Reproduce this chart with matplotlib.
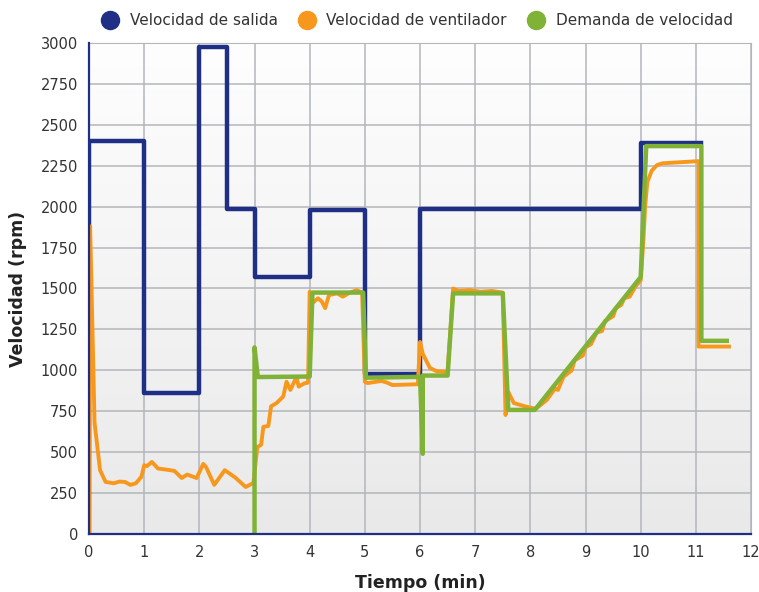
import matplotlib.pyplot as plt
from matplotlib.lines import Line2D
import numpy as np

# Velocidad de salida (step)
salida_t = [0, 0, 1, 1, 2, 2, 2.5, 2.5, 3, 3, 4, 4, 5, 5, 6, 6, 10, 10, 11.1]
salida_v = [0, 2400, 2400, 860, 860, 2975, 2975, 1985, 1985, 1570, 1570, 1980, 1980, 975, 975, 1985, 1985, 2390, 2390]

# Velocidad de ventilador
vent_t = [0, 0.02, 0.1, 0.2, 0.3, 0.45, 0.55, 0.65, 0.75, 0.85, 0.95, 1.0, 1.05, 1.14, 1.25, 1.47, 1.55,
          1.68, 1.78, 1.95, 2.07, 2.12, 2.27, 2.46, 2.65, 2.84, 2.98, 3.05, 3.12, 3.16, 3.25, 3.3, 3.4, 3.52,
          3.58, 3.65, 3.76, 3.8, 3.9, 3.97, 4.0, 4.05, 4.15, 4.22, 4.28, 4.35, 4.5, 4.6, 4.7, 4.85, 4.95,
          5.0, 5.05, 5.3, 5.4, 5.5, 5.96, 6.0, 6.05, 6.18, 6.3, 6.5, 6.6, 6.7, 6.9, 7.1, 7.3, 7.5, 7.55,
          7.6, 7.7, 7.9, 8.1, 8.3, 8.45, 8.5, 8.6, 8.75, 8.8, 8.95, 9.0, 9.1, 9.2, 9.3, 9.35, 9.5, 9.55,
          9.65, 9.7, 9.8, 9.9, 10.0, 10.05, 10.08, 10.12, 10.2, 10.3, 10.4, 11.05, 11.05, 11.6]
vent_v = [0, 1880, 680, 390, 318, 310, 320, 318, 300, 310, 350, 420, 415, 440, 400, 390, 385,
          342, 363, 342, 428, 410, 300, 390, 345, 287, 312, 531, 545, 655, 660, 780, 800, 840,
          930, 880, 960, 900, 920, 925, 1480, 1411, 1440, 1420, 1380, 1460, 1470, 1450, 1470, 1490, 1475,
          930, 922, 935, 925, 910, 915, 1173, 1100, 1014, 995, 990, 1500, 1485, 1490, 1480, 1485, 1475, 727,
          867, 800, 780, 765, 820, 890, 880, 960, 1000, 1060, 1090, 1140, 1160, 1230, 1240, 1300, 1330, 1380,
          1400, 1440, 1450, 1510, 1550, 1800, 2000, 2150, 2220, 2255, 2265, 2278, 1145, 1145]

# Demanda de velocidad
dem_t = [3, 3, 3.06, 4.0, 4.05, 4.97, 5.02, 6.0, 6.05, 6.05, 6.5, 6.6, 7.5, 7.6, 8.08, 10.0, 10.1, 11.1, 11.1, 11.56]
dem_v = [0, 1140, 959, 962, 1475, 1475, 955, 960, 490, 968, 968, 1470, 1470, 758, 758, 1570, 2370, 2370, 1180, 1180]

c_blue = '#1f2f86'
c_orange = '#f7981d'
c_green = '#7fb236'

fig = plt.figure(figsize=(7.59, 5.92), dpi=100)
ax = fig.add_axes([0.1173, 0.098, 0.8722, 0.8294])

# gradient background
grad = np.linspace(1, 0, 256).reshape(-1, 1)
ax.imshow(grad, extent=[0, 1, 0, 1], transform=ax.transAxes, aspect='auto',
          cmap=plt.matplotlib.colors.LinearSegmentedColormap.from_list('bg', ['#e9e9ea', '#fefefe']),
          zorder=0)

ax.plot(salida_t, salida_v, color=c_blue, lw=3.2, zorder=3)
ax.plot(vent_t, vent_v, color=c_orange, lw=2.8, zorder=4)
ax.plot(dem_t, dem_v, color=c_green, lw=3.2, zorder=5, solid_joinstyle='round')

ax.set_xlim(0, 12)
ax.set_ylim(0, 3000)
ax.set_xticks(range(0, 13))
ax.set_yticks(range(0, 3001, 250))
ax.grid(True, color='#b3b6ba', lw=1.1, zorder=1)
ax.set_axisbelow(True)
ax.tick_params(length=0, labelsize=10.5, labelcolor='#333333', pad=8)
for s in ['top', 'right']:
    ax.spines[s].set_color('#b3b6ba')
for s in ['left', 'bottom']:
    ax.spines[s].set_color(c_blue)
    ax.spines[s].set_linewidth(1.6)
    ax.spines[s].set_zorder(6)

ax.set_xlabel('Tiempo (min)', fontsize=12.5, fontweight='bold', color='#222222', labelpad=10)
ax.set_ylabel('Velocidad (rpm)', fontsize=12.5, fontweight='bold', color='#222222', labelpad=10)

handles = [Line2D([], [], ls='none', marker='o', ms=13, color=c) for c in (c_blue, c_orange, c_green)]
fig.legend(handles, ['Velocidad de salida', 'Velocidad de ventilador', 'Demanda de velocidad'],
           loc='center', bbox_to_anchor=(0.545, 0.965), ncol=3, frameon=False,
           fontsize=11, handletextpad=0.3, columnspacing=0.9, labelcolor='#333333')

fig.savefig('out.png', dpi=100)
